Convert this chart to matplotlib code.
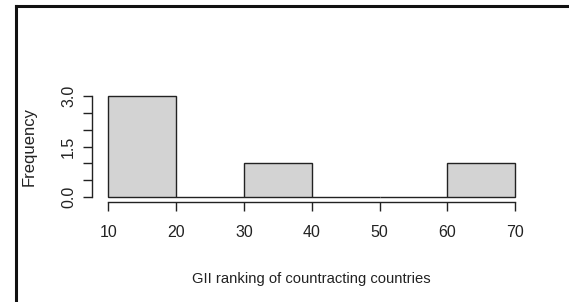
import matplotlib
matplotlib.use("Agg")
import matplotlib.pyplot as plt
from matplotlib.lines import Line2D

plt.rcParams['font.family'] = ['Liberation Sans', 'DejaVu Sans']

# Data
bin_edges = [10, 20, 30, 40, 50, 60, 70]
counts = [3, 0, 1, 0, 0, 1]
x_ticks = [10, 20, 30, 40, 50, 60, 70]
y_ticks = [0, 0.5, 1.0, 1.5, 2.0, 2.5, 3.0]
y_ticklabels = ["0.0", "", "", "1.5", "", "", "3.0"]
x_label = "GII ranking of countracting countries"
y_label = "Frequency"

W, H = 569, 302
fig = plt.figure(figsize=(W / 100, H / 100), dpi=100)

# plot region in pixels
left_px, right_px, top_px, bottom_px = 92, 531.6, 92, 201.5
ax = fig.add_axes([left_px / W, 1 - bottom_px / H, (right_px - left_px) / W, (bottom_px - top_px) / H])

widths = [bin_edges[i + 1] - bin_edges[i] for i in range(len(counts))]
ax.bar(bin_edges[:-1], counts, width=widths, align='edge',
       color='#D3D3D3', edgecolor='#222222', linewidth=1.0)

ax.set_xlim(7.6, 72.4)
ax.set_ylim(-0.13, 3.12)

for s in ['top', 'right']:
    ax.spines[s].set_visible(False)
ax.spines['left'].set_bounds(0, 3)
ax.spines['bottom'].set_bounds(10, 70)
for s in ['left', 'bottom']:
    ax.spines[s].set_linewidth(1.0)
    ax.spines[s].set_color('#222222')

ax.set_xticks(x_ticks)
ax.set_xticklabels([str(t) for t in x_ticks], fontsize=11.5)
ax.set_yticks(y_ticks)
ax.set_yticklabels(y_ticklabels, rotation=90, va='center', fontsize=11.5)
ax.tick_params(axis='both', direction='out', length=6.5, width=1.0, color='#222222',
               labelcolor='#222222')
ax.tick_params(axis='x', pad=10.5)
ax.tick_params(axis='y', pad=5.0)

fig.text(29 / W, 1 - 146 / H, y_label, rotation=90, ha='center', va='center',
         fontsize=12, color='#222222')
fig.text(311 / W, 1 - 283 / H, x_label, ha='center', va='baseline',
         fontsize=10.6, color='#222222')

# outer border (left and top)
fig.add_artist(Line2D([15.5 / W, 15.5 / W], [0, 1 - 6 / H], transform=fig.transFigure,
                      color='#111111', linewidth=2.2, solid_capstyle='projecting'))
fig.add_artist(Line2D([15.5 / W, 1], [1 - 6 / H, 1 - 6 / H], transform=fig.transFigure,
                      color='#111111', linewidth=2.2, solid_capstyle='projecting'))

fig.savefig("out.png", dpi=100)
